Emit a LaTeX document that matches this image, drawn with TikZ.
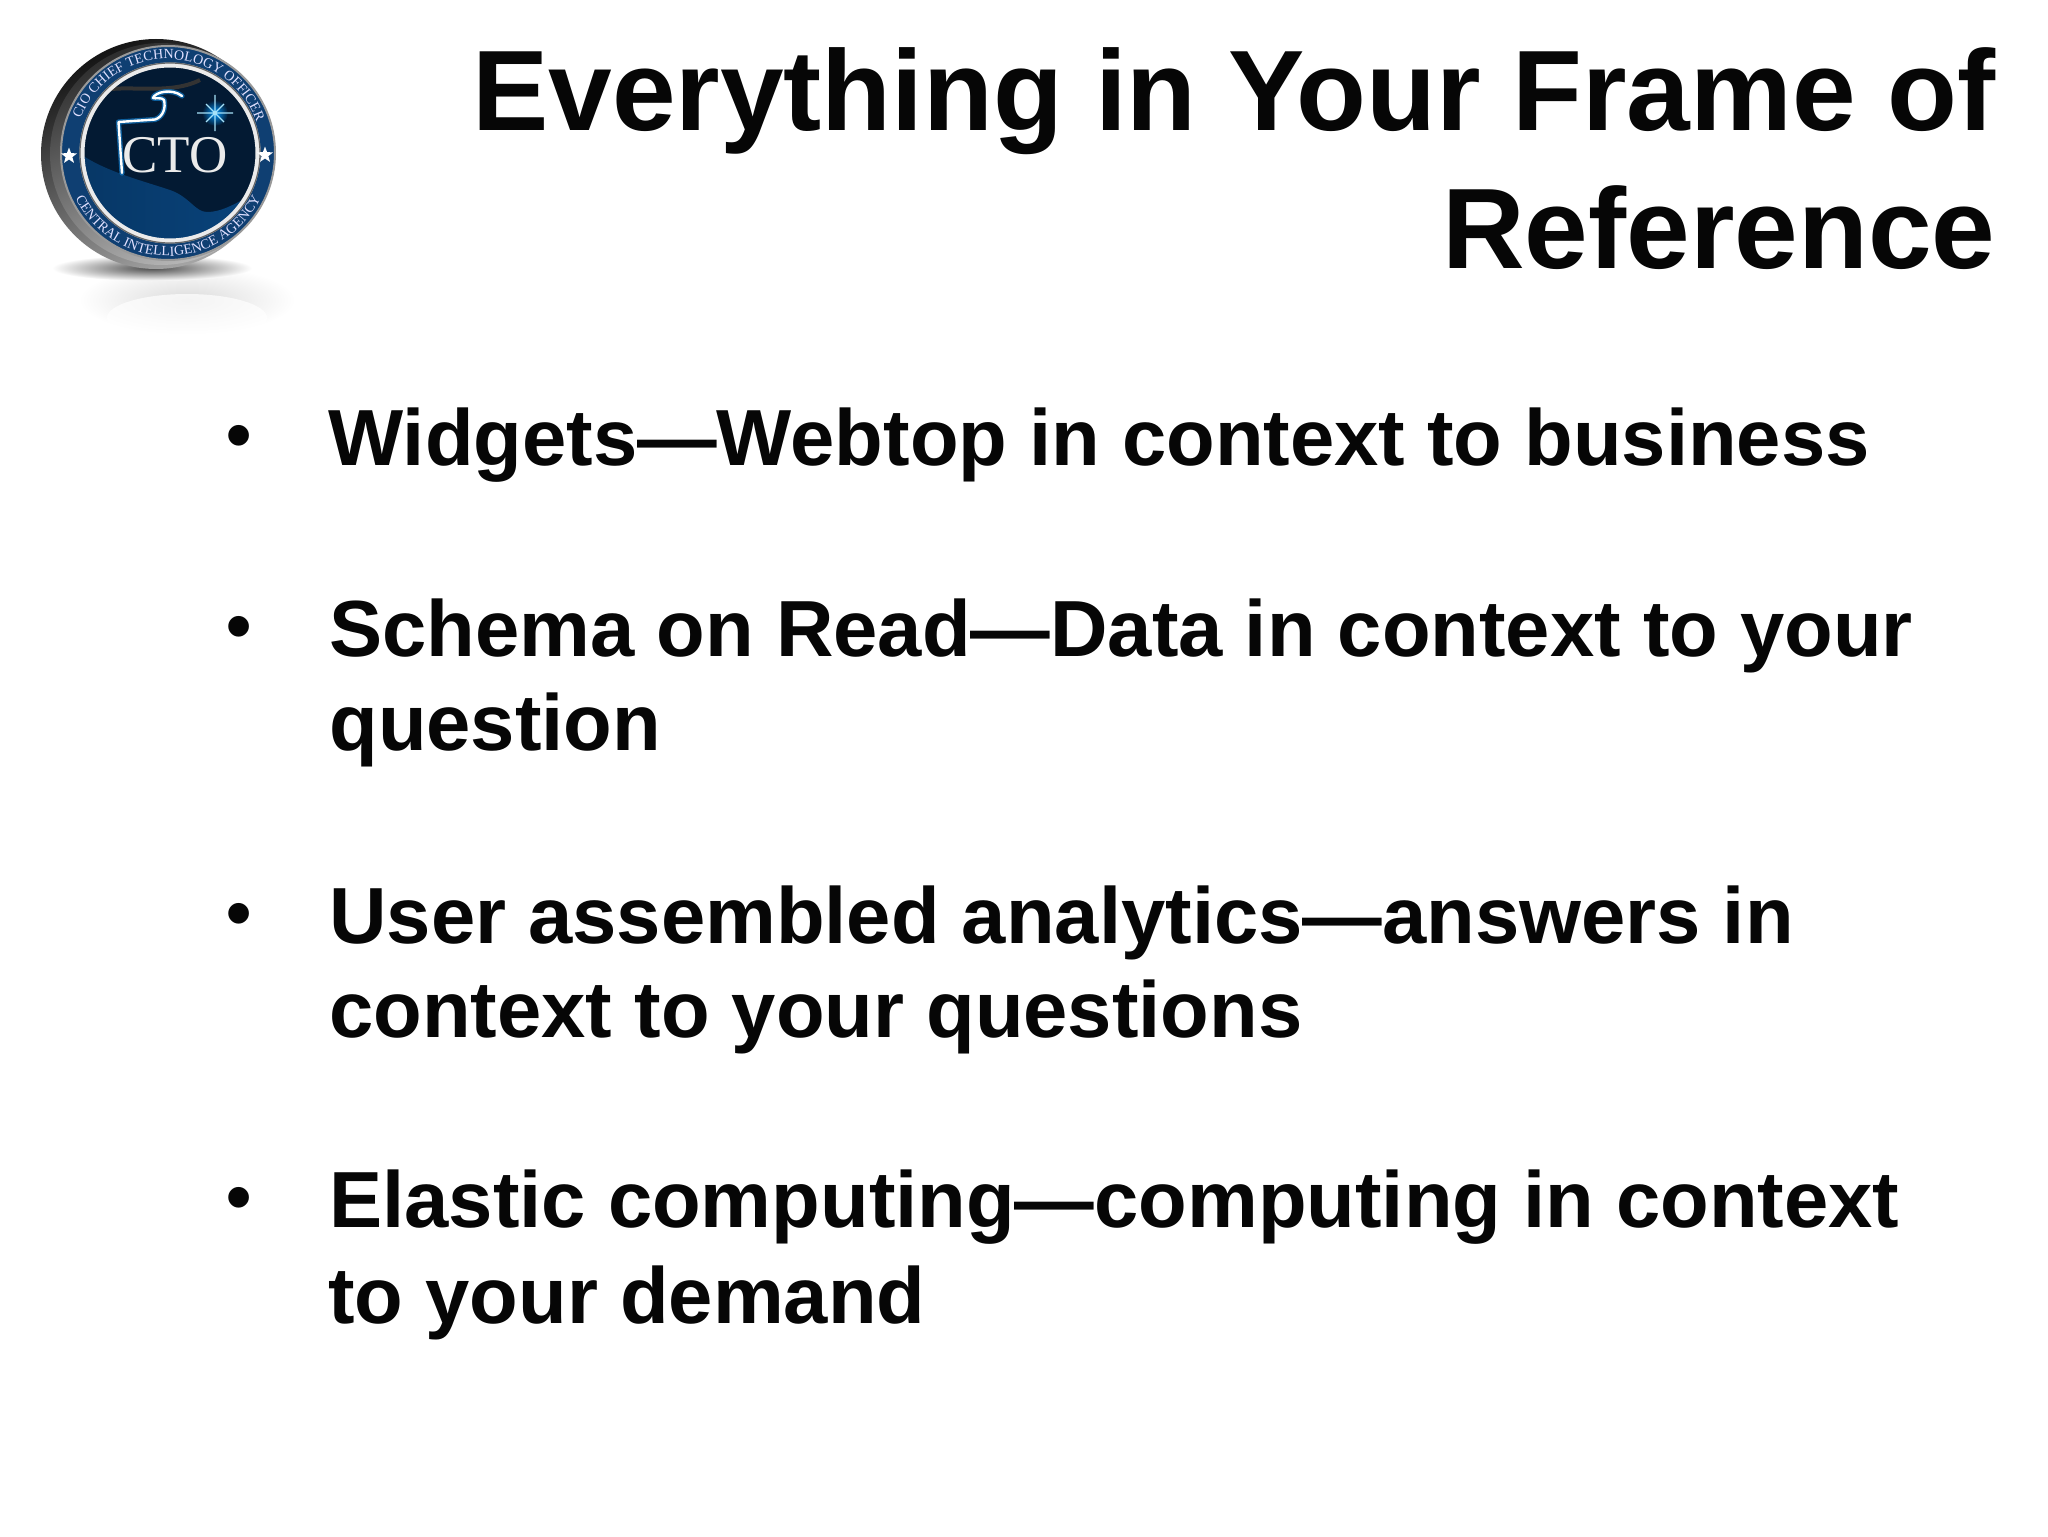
\documentclass[tikz,border=0pt]{standalone}
\usepackage{fontspec}
\setmainfont{Liberation Sans}
\newfontfamily\logofont{Liberation Serif}
\usetikzlibrary{decorations.text,shadings,fadings,shapes.geometric}
\definecolor{ringblue}{HTML}{0F3F72}
\definecolor{deepblue}{HTML}{031A33}
\definecolor{swoosh}{HTML}{0A4E8E}
\definecolor{ink}{HTML}{060606}
\tikzset{
  x=0.5pt,y=0.5pt,
  titletext/.style={anchor=base east,font=\fontsize{57.2}{57.2}\selectfont\bfseries,text=ink,inner sep=0pt},
  bodytext/.style={anchor=base west,font=\fontsize{39.8}{39.8}\selectfont\bfseries,text=ink,inner sep=0pt},
  bulletmark/.style={anchor=base,font=\fontsize{36}{36}\selectfont\bfseries,text=ink,inner sep=0pt},
  ringtext/.style={decorate,decoration={text along path,text align=center,
     text={|\logofont\fontsize{7}{7}\selectfont\color{white!88!blue}|#1}}},
  logostar/.style={star,star points=5,star point ratio=2.4,fill=white,inner sep=0pt,minimum size=8.5pt},
  glow/.style={line cap=round,line join=round}
}
\begin{document}
\begin{tikzpicture}
\useasboundingbox (0,0) rectangle (2048,-1536);
\fill[white] (0,0) rectangle (2048,-1536);
% reflection and shadow of the badge
\shade[inner color=black!14,outer color=white] (187,-300) ellipse [x radius=108,y radius=34];
\fill[white,opacity=.7] (187,-318) ellipse [x radius=80,y radius=24];
\shade[inner color=black!70,outer color=white] (152,-268) ellipse [x radius=100,y radius=13];
% badge body
\shade[top color=black!92,bottom color=black!35,shading angle=25] (156,-154) circle [radius=115];
\shade[top color=black!82,bottom color=black!28,shading angle=25] (161,-154) circle [radius=111];
\fill[ringblue] (168,-153) circle [radius=107];
\draw[black!40,line width=1pt] (168,-153) circle [radius=107];
% badge face
\begin{scope}
\clip (170,-153) circle [radius=88];
\fill[deepblue] (60,-40) rectangle (280,-270);
\shade[left color=swoosh!55!deepblue,right color=swoosh!80!deepblue]
  (75,-150) .. controls (100,-170) and (140,-180) .. (170,-190)
  .. controls (190,-197) and (195,-212) .. (207,-212)
  .. controls (225,-212) and (240,-200) .. (262,-190)
  -- (262,-260) -- (75,-260) -- cycle;
\draw[black!80,line width=2pt] (105,-90) .. controls (130,-85) and (170,-95) .. (200,-80);
\end{scope}
\draw[black!8,line width=2.5pt] (170,-153) circle [radius=88];
\draw[black!60,line width=.6pt] (170,-153) circle [radius=90];
% ring lettering
\path[ringtext={CIO CHIEF TECHNOLOGY OFFICER}] (168,-153) ++(160:94) arc [start angle=160,end angle=18,radius=94];
\path[ringtext={CENTRAL INTELLIGENCE AGENCY}] (168,-153) ++(208:103) arc [start angle=208,end angle=332,radius=103];
\node[logostar] (starleft) at (69,-156) {};
\node[logostar] (starright) at (265,-155) {};
% emblem
\draw[glow,cyan!60!blue,line width=2.6pt,opacity=.7] (122,-173) -- (118.5,-122) -- (155,-119.5) .. controls (163,-117) and (166,-108) .. (164,-100) .. controls (162,-97) and (155,-99) .. (153,-98) .. controls (155,-92) and (172,-88) .. (182,-96);
\draw[glow,white,line width=1.2pt] (122,-173) -- (118.5,-122) -- (155,-119.5) .. controls (163,-117) and (166,-108) .. (164,-100) .. controls (162,-97) and (155,-99) .. (153,-98) .. controls (155,-92) and (172,-88) .. (182,-96);
\shade[inner color=cyan!60!blue,outer color=deepblue] (215,-113) circle [radius=13];
\draw[cyan!35!white,line width=.6pt] (215,-95) -- (215,-131) (197,-113) -- (233,-113) (206,-104) -- (224,-122) (206,-122) -- (224,-104);
\node[anchor=center,inner sep=0pt,text=black!8,font=\logofont\fontsize{26.5}{26.5}\selectfont] (ctotext) at (175,-155) {CTO};
% title
\node[titletext] (title1) at (1996,-131) {Everything in Your Frame of};
\node[titletext] (title2) at (1996,-268) {Reference};
% bullets
\node[bulletmark] (b1) at (239,-459) {•};
\node[bulletmark] (b2) at (239,-650) {•};
\node[bulletmark] (b3) at (239,-937) {•};
\node[bulletmark] (b4) at (239,-1221) {•};
% body
\node[bodytext] (l1) at (328,-465) {Widgets—Webtop in context to business};
\node[bodytext] (l2) at (329,-656) {Schema on Read—Data in context to your};
\node[bodytext] (l3) at (329,-750) {question};
\node[bodytext] (l4) at (329,-943) {User assembled analytics—answers in};
\node[bodytext] (l5) at (329,-1037) {context to your questions};
\node[bodytext] (l6) at (329,-1227) {Elastic computing—computing in context};
\node[bodytext] (l7) at (328,-1323) {to your demand};
\end{tikzpicture}
\end{document}
